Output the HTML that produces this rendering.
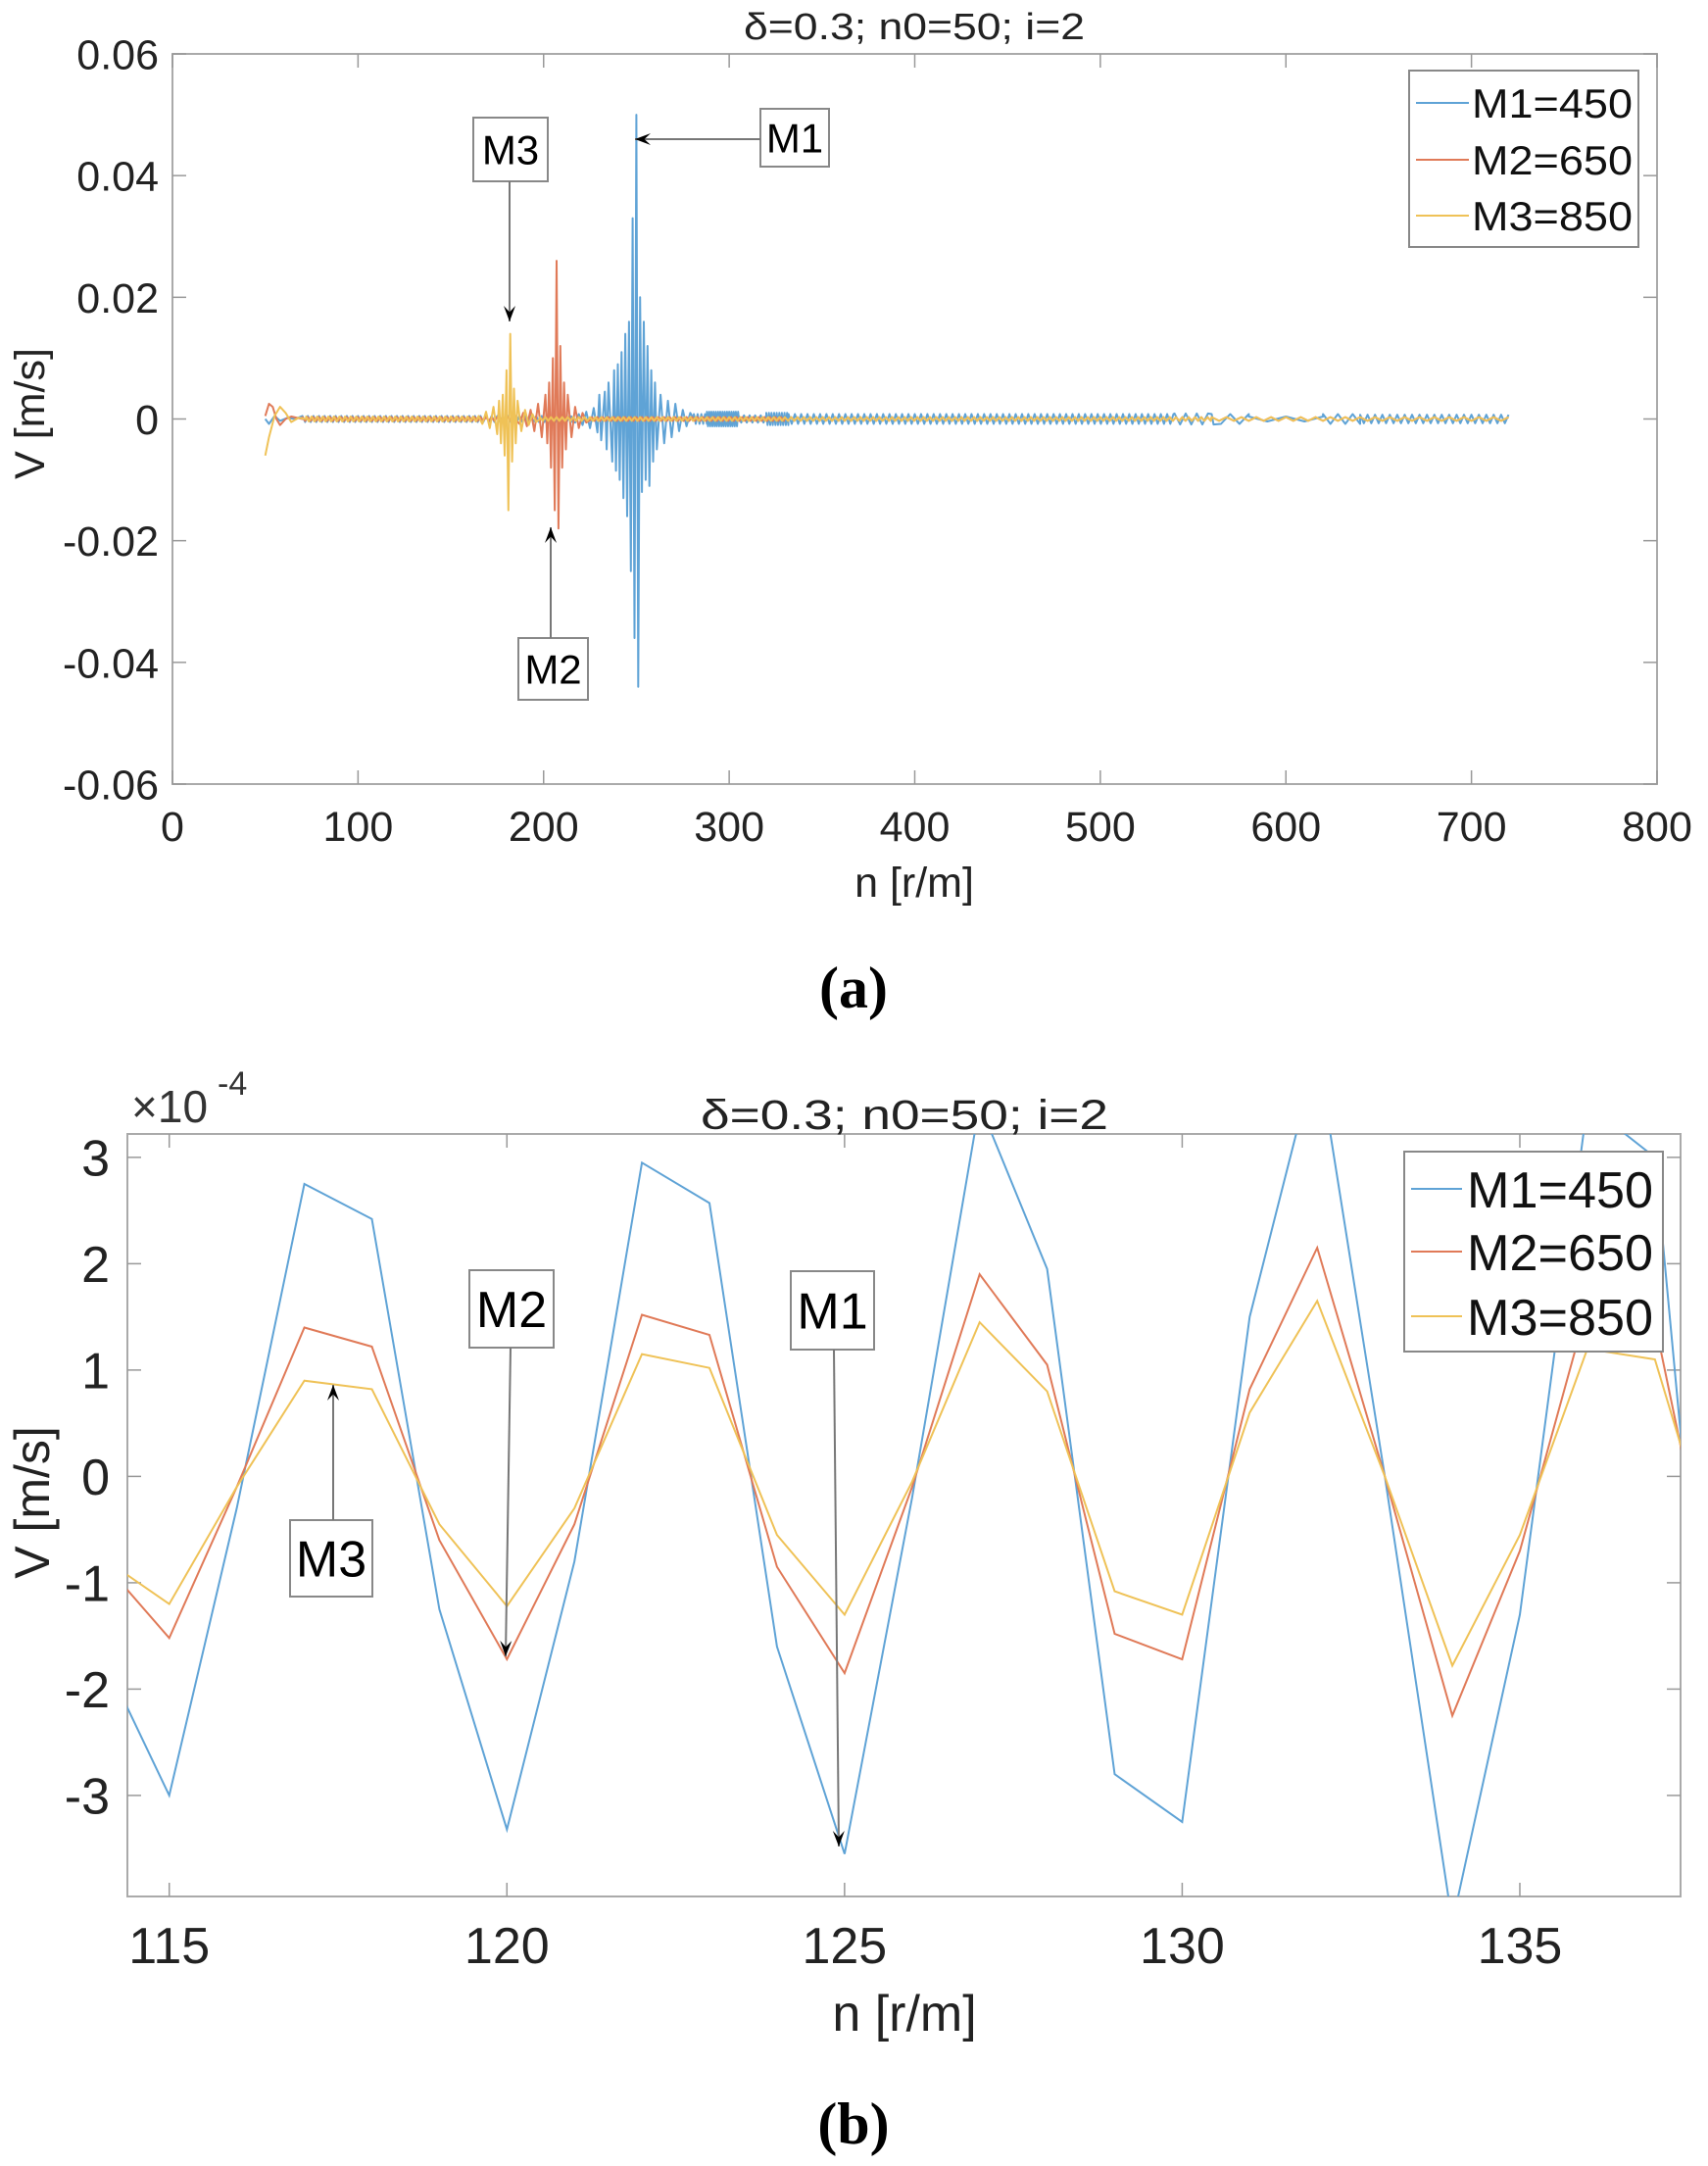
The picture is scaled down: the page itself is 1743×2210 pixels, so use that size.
<!DOCTYPE html>
<html><head><meta charset="utf-8"><style>
html,body{margin:0;padding:0;background:#fff;}
svg{display:block;font-family:"Liberation Sans",sans-serif;}
</style></head><body>
<svg id="fig" width="1743" height="2210" viewBox="0 0 1743 2210" xmlns="http://www.w3.org/2000/svg">
<g id="pa"></g>
<g id="pb"></g>
</svg>
<script>
// ---------- Panel (a) data: [n, V] key points ----------
const aXTicks=[0,100,200,300,400,500,600,700,800];
const aYTicks=[0.06,0.04,0.02,0,-0.02,-0.04,-0.06];
const aYTickLabels=["0.06","0.04","0.02","0","-0.02","-0.04","-0.06"];
const aM1Burst=[[50,0],[52,-0.0008],[55,0.0005],[58,-0.0003],[62,0.0002],[66,0],[215,0.0004],[217,-0.0006],[219,0.0008],[221,-0.001],[223,0.0012],[225,-0.0015],[227,0.0018],[229,-0.0022],[230,0.004],[231,-0.0035],[233,0.0045],[234,-0.005],[235,0.006],[237,-0.007],[238,0.008],[239,-0.0085],[240,0.009],[241,-0.01],[242,0.011],[243,-0.013],[244,0.014],[245,-0.016],[246,0.016],[247,-0.025],[248,0.033],[249,-0.036],[250,0.05],[251,-0.044],[252,0.02],[253,-0.012],[254,0.016],[255,-0.01],[256,0.012],[257,-0.011],[258,0.008],[259,-0.007],[260,0.006],[261,-0.005],[263,0.004],[265,-0.004],[267,0.003],[269,-0.003],[271,0.0025],[273,-0.002],[275,0.0015],[277,-0.0012],[279,0.001],[281,0]];
const aM2Burst=[[50,0.0005],[52,0.0025],[54,0.002],[56,0],[58,-0.001],[61,0],[64,0.0004],[70,0],[185,0.0005],[187,-0.0008],[189,0.001],[191,-0.0012],[193,0.0015],[195,-0.002],[197,0.0025],[199,-0.003],[201,0.004],[202,-0.004],[203,0.006],[204,-0.008],[205,0.01],[206,-0.015],[207,0.026],[208,-0.018],[209,0.012],[210,-0.008],[211,0.006],[212,-0.005],[213,0.004],[215,-0.003],[217,0.002],[219,-0.0015],[221,0.001],[223,-0.0006],[226,0]];
const aM3Burst=[[50,-0.006],[52,-0.003],[55,0.0005],[58,0.002],[61,0.001],[64,-0.0005],[68,0.0002],[72,0],[165,0.0005],[167,-0.0008],[169,0.0012],[171,-0.0015],[173,0.002],[175,-0.0025],[176,0.003],[177,-0.004],[178,0.004],[179,-0.006],[180,0.008],[181,-0.015],[182,0.014],[183,-0.007],[184,0.005],[185,-0.004],[186,0.003],[188,-0.002],[190,0.0015],[192,-0.001],[194,0.0008],[196,-0.0005],[198,0]];
// ripple segments: start n, end n, half-amplitude, half-period (n)
const aM1RipStart=[70,281,288,305,320,332,540,560,580,620,640];
const aM1RipEnd=[215,288,305,320,332,540,560,580,620,640,720];
const aM1RipAmp=[0.0005,0.0008,0.0012,0.0006,0.0010,0.0008,0.0009,0.0008,0.0004,0.0008,0.0007];
const aM1RipHalf=[1.5,1,0.6,1.5,0.7,1.7,3,5,10,4,2];
const aM2RipStart=[70,226,330,560];
const aM2RipEnd=[185,330,560,720];
const aM2RipAmp=[0.0003,0.0003,0.0003,0.0003];
const aM2RipHalf=[1.5,1.5,1.7,4];
const aM3RipStart=[72,198,330,560];
const aM3RipEnd=[165,330,560,720];
const aM3RipAmp=[0.0004,0.0003,0.0003,0.0003];
const aM3RipHalf=[1.5,1.5,1.7,4];

// ---------- Panel (b) data ----------
const bN=[114,115,116,117,118,119,120,121,122,123,124,125,126,127,128,129,130,131,132,133,134,135,136,137,138];
const bM1=[-1.67,-3.0,-0.3,2.75,2.42,-1.25,-3.32,-0.8,2.95,2.57,-1.6,-3.55,-0.2,3.5,1.95,-2.8,-3.25,1.5,4.0,0,-4.2,-1.3,3.5,3.0,-3.8];
const bM2=[-0.79,-1.52,-0.1,1.4,1.22,-0.6,-1.72,-0.45,1.52,1.33,-0.85,-1.85,-0.1,1.9,1.05,-1.48,-1.72,0.82,2.15,0,-2.25,-0.7,1.6,1.45,-1.6];
const bM3=[-0.76,-1.2,-0.1,0.9,0.82,-0.45,-1.22,-0.3,1.15,1.02,-0.55,-1.3,-0.05,1.45,0.8,-1.08,-1.3,0.6,1.65,0,-1.78,-0.55,1.2,1.1,-1.0];
const bXTicks=[115,120,125,130,135];
const bYTicks=[3,2,1,0,-1,-2,-3];
const bYTickLabels=["3","2","1","0","-1","-2","-3"];
const legendLabels=["M1=450","M2=650","M3=850"];
const colors=["#5fa3d6","#e07a58","#efc257"];

const NS="http://www.w3.org/2000/svg";
function mk(parent,tag,attrs,text){const e=document.createElementNS(NS,tag);for(const k in attrs)e.setAttribute(k,attrs[k]);if(text!==undefined)e.textContent=text;parent.appendChild(e);return e;}

function rippleToPoints(st,en,amp,half){
  const pts=[];
  for(let s=0;s<st.length;s++){
    const cnt=Math.round((en[s]-st[s])/half[s]);
    for(let k=0;k<=cnt;k++){pts.push([st[s]+k*half[s],(k%2?-1:1)*amp[s]]);}
  }
  return pts;
}
function merge(a,b){return a.concat(b).sort((p,q)=>p[0]-q[0]);}

function drawAxes(g,o){
  const {L,R,T,B}=o;
  o.xt.forEach((v,i)=>{const x=o.sx(v);
    let t=mk(g,'line',{x1:x,x2:x,y1:B,y2:B-o.tl,stroke:'#999','stroke-width':1.5});
    
    mk(g,'line',{x1:x,x2:x,y1:T,y2:T+o.tl,stroke:'#999','stroke-width':1.5});
    t=mk(g,'text',{x:x,y:o.xly,'font-size':o.fs,'text-anchor':'middle',fill:'#222'},String(v));
    
  });
  o.yt.forEach((v,i)=>{const y=o.sy(v);
    let t=mk(g,'line',{x1:L,x2:L+o.tl,y1:y,y2:y,stroke:'#999','stroke-width':1.5});
    
    mk(g,'line',{x1:R,x2:R-o.tl,y1:y,y2:y,stroke:'#999','stroke-width':1.5});
    t=mk(g,'text',{x:o.ylx,y:y+o.fs*0.36,'font-size':o.fs,'text-anchor':'end',fill:'#222'},o.ytl[i]);
    
  });
}
function box(g,x,y,w,h,fs,label,name){
  const gg=mk(g,'g',{});
  
  mk(gg,'rect',{x:x,y:y,width:w,height:h,fill:'#fff',stroke:'#888','stroke-width':2});
  mk(gg,'text',{x:x+w/2,y:y+h/2+fs*0.36,'font-size':fs,'text-anchor':'middle',fill:'#000'},label);
}
function arrow(g,x1,y1,x2,y2,name){
  const gg=mk(g,'g',{});
  
  mk(gg,'line',{x1:x1,y1:y1,x2:x2,y2:y2,stroke:'#777','stroke-width':2});
  const a=Math.atan2(y2-y1,x2-x1),L=16,W=6;
  const bx=x2-L*Math.cos(a),by=y2-L*Math.sin(a);
  const px=-Math.sin(a)*W,py=Math.cos(a)*W;
  mk(gg,'path',{d:`M${x2},${y2} L${bx+px},${by+py} L${x2-L*0.6*Math.cos(a)},${y2-L*0.6*Math.sin(a)} L${bx-px},${by-py} Z`,fill:'#000'});
}

// ===== Panel A =====
(function(){
  const g=document.getElementById('pa');
  const L=176,R=1691,T=55,B=800;
  const sx=v=>L+(v-0)/(800-0)*(R-L);
  const sy=v=>T+(0.06-v)/(0.12)*(B-T);
  mk(g,'rect',{x:L,y:T,width:R-L,height:B-T,fill:'#fff',stroke:'#aaa','stroke-width':2});
  drawAxes(g,{L,R,T,B,sx,sy,xt:aXTicks,yt:aYTicks,ytl:aYTickLabels,tl:14,fs:43,xly:858,ylx:162});
  const series=[merge(aM1Burst,rippleToPoints(aM1RipStart,aM1RipEnd,aM1RipAmp,aM1RipHalf)),
                merge(aM2Burst,rippleToPoints(aM2RipStart,aM2RipEnd,aM2RipAmp,aM2RipHalf)),
                merge(aM3Burst,rippleToPoints(aM3RipStart,aM3RipEnd,aM3RipAmp,aM3RipHalf))];
  const names=['m1-series-line','m2-series-line','m3-series-line'];
  series.forEach((pts,i)=>{
    const p=mk(g,'polyline',{points:pts.map(q=>sx(q[0]).toFixed(1)+','+sy(q[1]).toFixed(1)).join(' '),fill:'none',stroke:colors[i],'stroke-width':2,'stroke-linejoin':'round'});
    
  });
  let t=mk(g,'text',{x:933,y:40,'font-size':38,'text-anchor':'middle',fill:'#222',textLength:348,lengthAdjust:'spacingAndGlyphs'},'δ=0.3; n0=50; i=2');
  
  t=mk(g,'text',{x:933,y:915,'font-size':43,'text-anchor':'middle',fill:'#222'},'n [r/m]');
  
  t=mk(g,'text',{x:0,y:0,'font-size':43,'text-anchor':'middle',fill:'#222',transform:'translate(45,422) rotate(-90)'},'V [m/s]');
  
  const lg=mk(g,'g',{});
  mk(lg,'rect',{x:1438,y:72,width:234,height:180,fill:'#fff',stroke:'#888','stroke-width':2});
  [105,163,220].forEach((y,i)=>{
    const e=mk(lg,'g',{});
    mk(e,'line',{x1:1445,x2:1499,y1:y,y2:y,stroke:colors[i],'stroke-width':2});
    mk(e,'text',{x:1502,y:y+15,'font-size':42,fill:'#111',textLength:164,lengthAdjust:'spacingAndGlyphs'},legendLabels[i]);
  });
  box(g,776,111,70,59,42,'M1','m1-annotation');
  arrow(g,776,142,648,142,'m1-arrow');
  box(g,483,120,76,65,42,'M3','m3-annotation');
  arrow(g,520,185,520,328,'m3-arrow');
  box(g,529,651,71,63,42,'M2','m2-annotation');
  arrow(g,562,651,562,538,'m2-arrow');
  t=mk(g,'text',{x:871,y:1028,'font-size':60,'font-weight':'bold','text-anchor':'middle',fill:'#000','font-family':'Liberation Serif, serif'},'(a)');
  
})();

// ===== Panel B =====
(function(){
  const g=document.getElementById('pb');
  const L=130,R=1715,T=1157,B=1935;
  const x0=114.38,x1=137.38,yTop=3.22,yBot=-3.95;
  const sx=v=>L+(v-x0)/(x1-x0)*(R-L);
  const sy=v=>T+(yTop-v)/(yTop-yBot)*(B-T);
  mk(g,'defs',{}).innerHTML='<clipPath id="cb"><rect x="'+L+'" y="'+T+'" width="'+(R-L)+'" height="'+(B-T)+'"/></clipPath>';
  mk(g,'rect',{x:L,y:T,width:R-L,height:B-T,fill:'#fff',stroke:'#aaa','stroke-width':2});
  drawAxes(g,{L,R,T,B,sx,sy,xt:bXTicks,yt:bYTicks,ytl:bYTickLabels,tl:14,fs:52,xly:2003,ylx:112});
  const cg=mk(g,'g',{'clip-path':'url(#cb)'});
  const data=[bM1,bM2,bM3],names=['m1-series-line','m2-series-line','m3-series-line'];
  data.forEach((ys,i)=>{
    const p=mk(cg,'polyline',{points:bN.map((n,j)=>sx(n).toFixed(1)+','+sy(ys[j]).toFixed(1)).join(' '),fill:'none',stroke:colors[i],'stroke-width':2});
    
  });
  let t=mk(g,'text',{x:923,y:1152,'font-size':43,'text-anchor':'middle',fill:'#222',textLength:416,lengthAdjust:'spacingAndGlyphs'},'δ=0.3; n0=50; i=2');
  
  t=mk(g,'text',{x:134,y:1145,'font-size':46,fill:'#333'},'×10');
  
  mk(g,'text',{x:222,y:1117,'font-size':34,fill:'#333'},'-4');
  t=mk(g,'text',{x:923,y:2072,'font-size':52,'text-anchor':'middle',fill:'#222'},'n [r/m]');
  
  t=mk(g,'text',{x:0,y:0,'font-size':50,'text-anchor':'middle',fill:'#222',transform:'translate(50,1533) rotate(-90)'},'V [m/s]');
  
  const lg=mk(g,'g',{});
  mk(lg,'rect',{x:1433,y:1175,width:264,height:204,fill:'#fff',stroke:'#888','stroke-width':2});
  [1213,1277,1343].forEach((y,i)=>{
    const e=mk(lg,'g',{});
    mk(e,'line',{x1:1440,x2:1492,y1:y,y2:y,stroke:colors[i],'stroke-width':2});
    mk(e,'text',{x:1497,y:y+19,'font-size':52,fill:'#111',textLength:190,lengthAdjust:'spacingAndGlyphs'},legendLabels[i]);
  });
  box(g,479,1296,86,79,52,'M2','m2-annotation');
  arrow(g,521,1375,516,1690,'m2-arrow');
  box(g,807,1297,85,80,52,'M1','m1-annotation');
  arrow(g,851,1377,856,1884,'m1-arrow');
  box(g,296,1551,84,78,52,'M3','m3-annotation');
  arrow(g,340,1551,340,1413,'m3-arrow');
  t=mk(g,'text',{x:871,y:2187,'font-size':60,'font-weight':'bold','text-anchor':'middle',fill:'#000','font-family':'Liberation Serif, serif'},'(b)');
  
})();
</script>
</body></html>
